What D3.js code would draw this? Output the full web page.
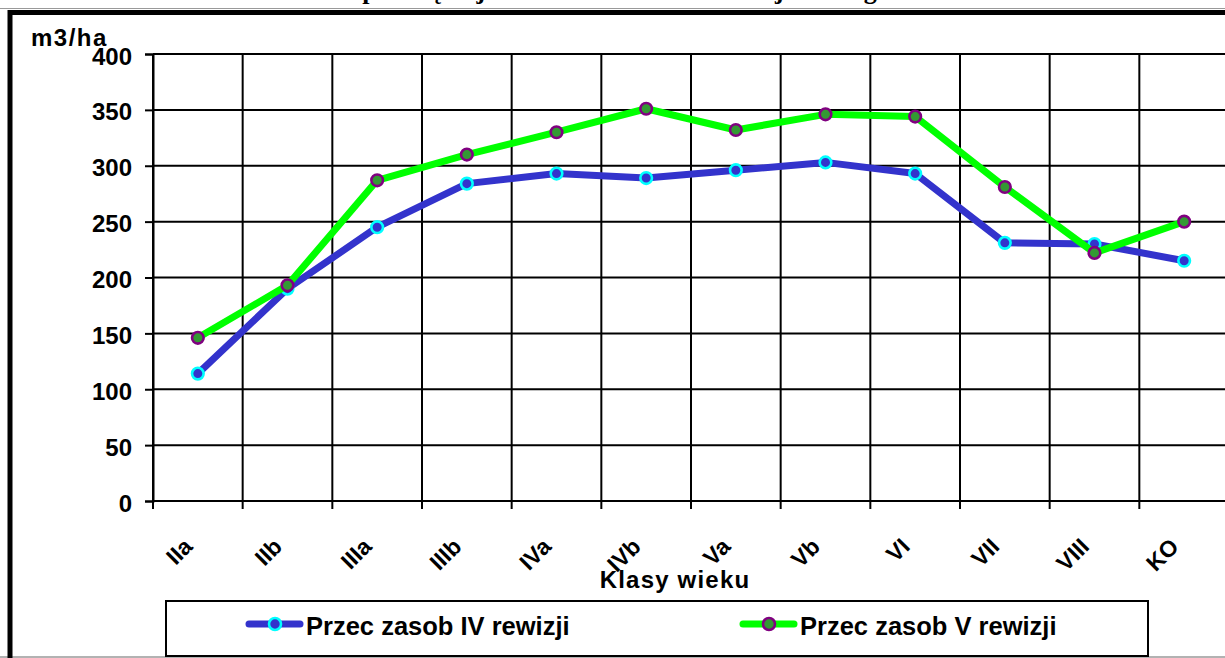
<!DOCTYPE html>
<html>
<head>
<meta charset="utf-8">
<script src="https://cdn.jsdelivr.net/npm/d3@7"></script>
<style>
  body { margin: 0; background: #fff; }
  svg { display: block; }
  svg text { font-family: "Liberation Sans", Arial, sans-serif; font-weight: bold; }
</style>
</head>
<body>
<div class="chart"></div>
<script>
var categories = ['IIa', 'IIb', 'IIIa', 'IIIb', 'IVa', 'IVb', 'Va', 'Vb', 'VI', 'VII', 'VIII', 'KO'];
var zasobIV = [114, 190, 245, 284, 293, 289, 296, 303, 293, 231, 230, 215];
var zasobV = [146, 193, 287, 310, 330, 351, 332, 346, 344, 281, 222, 250];
var yTicks = [0, 50, 100, 150, 200, 250, 300, 350, 400];
var seriesNames = ['Przec zasob IV rewizji', 'Przec zasob V rewizji'];

var svgWidth = 1225;
var svgHeight = 658;

var plot = {left: 153, right: 1229, top: 54, bottom: 501};

var svg = d3
  .select('.chart')
  .append('svg')
  .attr('width', svgWidth)
  .attr('height', svgHeight);

svg.append('rect').attr('width', svgWidth).attr('height', svgHeight).attr('fill', '#fff');

// title, cut off above the picture (only descenders show)
svg.append('text')
  .attr('x', 612)
  .attr('y', -1)
  .attr('text-anchor', 'middle')
  .style('font-family', '"Liberation Serif", "Times New Roman", serif')
  .style('font-size', '26px')
  .text('Porównanie przeciętnej zasobności w IV i V rewizji według klas wieku');

// outer frames
svg.append('line').attr('x1', 0).attr('x2', svgWidth).attr('y1', 8.5).attr('y2', 8.5)
  .attr('stroke', '#999').attr('stroke-width', 1);
svg.append('line').attr('x1', 0).attr('x2', svgWidth).attr('y1', 657).attr('y2', 657)
  .attr('stroke', '#999').attr('stroke-width', 1.5);
svg.append('path')
  .attr('d', 'M10,670 L10,12.5 L1240,12.5')
  .attr('fill', 'none').attr('stroke', '#000').attr('stroke-width', 5);

var x = d3.scaleBand().domain(categories).range([plot.left, plot.right]).padding(0);
var y = d3.scaleLinear().domain([0, 400]).range([plot.bottom, plot.top]);

var chart = svg.append('g');

// horizontal gridlines
chart.selectAll('.hgrid')
  .data(yTicks)
  .enter()
  .append('line')
  .attr('x1', plot.left)
  .attr('x2', plot.right)
  .attr('y1', function(d) { return y(d); })
  .attr('y2', function(d) { return y(d); })
  .attr('stroke', '#000')
  .attr('stroke-width', 2);

// vertical gridlines + ticks at category boundaries
var bounds = categories.map(function(c) { return x(c); }).concat([x.range()[1]]);
chart.selectAll('.vgrid')
  .data(bounds)
  .enter()
  .append('line')
  .attr('x1', function(d) { return d; })
  .attr('x2', function(d) { return d; })
  .attr('y1', plot.top)
  .attr('y2', plot.bottom + 8)
  .attr('stroke', '#000')
  .attr('stroke-width', 2);

// y axis
var leftAxis = d3.axisLeft(y).tickValues(yTicks).tickSize(8).tickPadding(13);
var yAxis = chart.append('g')
  .attr('transform', 'translate(' + plot.left + ',0)')
  .call(leftAxis);
yAxis.select('.domain').attr('stroke', '#000').attr('stroke-width', 2);
yAxis.selectAll('.tick line').attr('stroke', '#000').attr('stroke-width', 2);
yAxis.selectAll('.tick text')
  .attr('fill', '#000')
  .attr('dy', '0.42em')
  .style('font-size', '24px');

// category labels
chart.selectAll('.catLabel')
  .data(categories)
  .enter()
  .append('text')
  .attr('text-anchor', 'end')
  .attr('transform', function(d) {
    return 'translate(' + (x(d) + x.bandwidth() / 2 - 4) + ',548) rotate(-45)';
  })
  .style('font-size', '23px')
  .text(function(d) { return d; });

// axis titles
svg.append('text')
  .attr('x', 675)
  .attr('y', 588)
  .attr('text-anchor', 'middle')
  .style('font-size', '24px')
  .style('letter-spacing', '1.2px')
  .text('Klasy wieku');

svg.append('text')
  .attr('x', 31)
  .attr('y', 46)
  .style('font-size', '24px')
  .style('letter-spacing', '1.5px')
  .text('m3/ha');

// series
var line = d3.line()
  .x(function(d, i) { return x(categories[i]) + x.bandwidth() / 2; })
  .y(function(d) { return y(d); });

var series = [
  {name: seriesNames[0], values: zasobIV, color: '#3333cc', fill: '#3333cc', edge: '#00ffff'},
  {name: seriesNames[1], values: zasobV, color: '#00ff00', fill: '#339933', edge: '#800080'}
];

series.forEach(function(s) {
  chart.append('path')
    .datum(s.values)
    .attr('d', line)
    .attr('fill', 'none')
    .attr('stroke', s.color)
    .attr('stroke-width', 7)
    .attr('stroke-linejoin', 'round');

  chart.selectAll(null)
    .data(s.values)
    .enter()
    .append('circle')
    .attr('cx', function(d, i) { return x(categories[i]) + x.bandwidth() / 2; })
    .attr('cy', function(d) { return y(d); })
    .attr('r', 5.8)
    .attr('fill', s.fill)
    .attr('stroke', s.edge)
    .attr('stroke-width', 2.6);
});

// legend
var legend = svg.append('g');
legend.append('rect')
  .attr('x', 166)
  .attr('y', 601)
  .attr('width', 982)
  .attr('height', 55)
  .attr('fill', '#fff')
  .attr('stroke', '#000')
  .attr('stroke-width', 2);

var legendX = [246, 740];
series.forEach(function(s, i) {
  var lx = legendX[i];
  legend.append('line')
    .attr('x1', lx + 3).attr('x2', lx + 54)
    .attr('y1', 624).attr('y2', 624)
    .attr('stroke', s.color)
    .attr('stroke-width', 7)
    .attr('stroke-linecap', 'round');
  legend.append('circle')
    .attr('cx', lx + 29).attr('cy', 624)
    .attr('r', 6)
    .attr('fill', s.fill)
    .attr('stroke', s.edge)
    .attr('stroke-width', 2.6);
  legend.append('text')
    .attr('x', lx + 60)
    .attr('y', 635)
    .style('font-size', '25.5px')
    .text(s.name);
});
</script>
</body>
</html>
